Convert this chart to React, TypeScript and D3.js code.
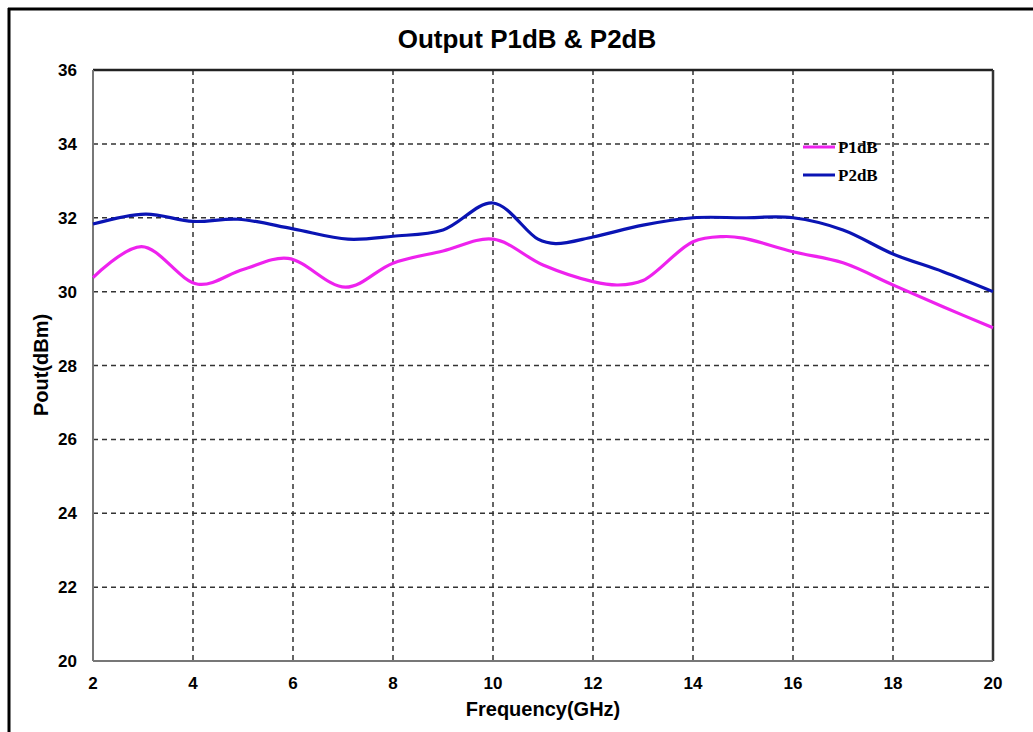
import { useEffect, useRef } from 'react';
import * as d3 from 'd3';

const freqP1 = [2, 2.97, 4.1, 5, 5.9, 7.05, 8, 9, 10, 11, 12, 12.5, 13, 14, 14.6, 15, 16, 17, 18, 19, 20];
const p1dB = [30.38, 31.22, 30.2, 30.6, 30.9, 30.12, 30.77, 31.1, 31.42, 30.72, 30.27, 30.18, 30.3, 31.35, 31.49, 31.45, 31.08, 30.78, 30.18, 29.59, 29.02];

const freqP2 = [2, 3.05, 4, 4.9, 6, 7.1, 8, 9, 10, 10.9, 11.25, 12, 13, 14, 15, 16, 17, 18, 19, 20];
const p2dB = [31.83, 32.1, 31.9, 31.96, 31.7, 31.42, 31.5, 31.67, 32.4, 31.42, 31.3, 31.48, 31.8, 32.0, 32.0, 32.0, 31.67, 31.02, 30.54, 30.0];

const xTicks = [2, 4, 6, 8, 10, 12, 14, 16, 18, 20];
const yTicks = [20, 22, 24, 26, 28, 30, 32, 34, 36];

const seriesNames = ['P1dB', 'P2dB'];
const seriesColors = ['#ee22ee', '#0a14b4'];

export default function App() {
  const ref = useRef<SVGSVGElement>(null);

  useEffect(() => {
    const width = 1033;
    const height = 732;
    const margin = { top: 70, right: 40, bottom: 71, left: 93 };
    const innerWidth = width - margin.left - margin.right;
    const innerHeight = height - margin.top - margin.bottom;

    const svg = d3.select(ref.current).attr('width', width).attr('height', height);
    svg.selectAll('*').remove();

    // outer frame
    svg.append('line').attr('x1', 8).attr('x2', width).attr('y1', 9).attr('y2', 9)
      .attr('stroke', '#000').attr('stroke-width', 3);
    svg.append('line').attr('x1', 9).attr('x2', 9).attr('y1', 8).attr('y2', height)
      .attr('stroke', '#000').attr('stroke-width', 3);

    const g = svg.append('g').attr('transform', `translate(${margin.left}, ${margin.top})`);

    const xScale = d3.scaleLinear().domain([2, 20]).range([0, innerWidth]);
    const yScale = d3.scaleLinear().domain([20, 36]).range([innerHeight, 0]);

    // grid
    g.selectAll('.vgrid')
      .data(xTicks.slice(1, -1))
      .join('line')
      .attr('class', 'vgrid')
      .attr('x1', d => xScale(d)).attr('x2', d => xScale(d))
      .attr('y1', 0).attr('y2', innerHeight)
      .attr('stroke', '#333').attr('stroke-width', 1.5).attr('stroke-dasharray', '5,4');
    g.selectAll('.hgrid')
      .data(yTicks.slice(1, -1))
      .join('line')
      .attr('class', 'hgrid')
      .attr('x1', 0).attr('x2', innerWidth)
      .attr('y1', d => yScale(d)).attr('y2', d => yScale(d))
      .attr('stroke', '#333').attr('stroke-width', 1.5).attr('stroke-dasharray', '5,4');

    // plot border
    g.append('line').attr('x1', 0).attr('x2', innerWidth).attr('y1', 0).attr('y2', 0)
      .attr('stroke', '#222').attr('stroke-width', 2.5);
    g.append('line').attr('x1', innerWidth).attr('x2', innerWidth).attr('y1', 0).attr('y2', innerHeight)
      .attr('stroke', '#333').attr('stroke-width', 2.5);
    g.append('line').attr('x1', 0).attr('x2', 0).attr('y1', 0).attr('y2', innerHeight)
      .attr('stroke', '#777').attr('stroke-width', 2);
    g.append('line').attr('x1', 0).attr('x2', innerWidth).attr('y1', innerHeight).attr('y2', innerHeight)
      .attr('stroke', '#777').attr('stroke-width', 2);

    // tick labels
    g.selectAll('.xlab')
      .data(xTicks)
      .join('text')
      .attr('class', 'xlab')
      .attr('x', d => xScale(d))
      .attr('y', innerHeight + 28)
      .attr('text-anchor', 'middle')
      .style('font-family', 'Liberation Sans, Arial, sans-serif')
      .style('font-weight', 'bold')
      .style('font-size', '17px')
      .text(d => d);
    g.selectAll('.ylab')
      .data(yTicks)
      .join('text')
      .attr('class', 'ylab')
      .attr('x', -16)
      .attr('y', d => yScale(d) + 6)
      .attr('text-anchor', 'end')
      .style('font-family', 'Liberation Sans, Arial, sans-serif')
      .style('font-weight', 'bold')
      .style('font-size', '17px')
      .text(d => d);

    const line = d3.line<[number, number]>()
      .x(d => xScale(d[0]))
      .y(d => yScale(d[1]))
      .curve(d3.curveCatmullRom.alpha(0.5));

    const series: [number, number][][] = [
      freqP1.map((f, i) => [f, p1dB[i]]),
      freqP2.map((f, i) => [f, p2dB[i]])
    ];

    g.selectAll('.series')
      .data(series)
      .join('path')
      .attr('class', 'series')
      .attr('d', d => line(d))
      .attr('fill', 'none')
      .attr('stroke', (d, i) => seriesColors[i])
      .attr('stroke-width', 3.2);

    // legend
    const legend = svg.append('g').attr('transform', 'translate(803, 147)');
    seriesNames.forEach((name, i) => {
      legend.append('line')
        .attr('x1', 0).attr('x2', 32)
        .attr('y1', i * 28).attr('y2', i * 28)
        .attr('stroke', seriesColors[i]).attr('stroke-width', 3);
      legend.append('text')
        .attr('x', 35).attr('y', i * 28 + 6)
        .style('font-family', 'Liberation Serif, Times New Roman, serif')
        .style('font-weight', 'bold')
        .style('font-size', '17px')
        .text(name);
    });

    // titles
    svg.append('text')
      .attr('x', 527).attr('y', 48)
      .attr('text-anchor', 'middle')
      .style('font-family', 'Liberation Sans, Arial, sans-serif')
      .style('font-weight', 'bold')
      .style('font-size', '26px')
      .text('Output P1dB & P2dB');
    svg.append('text')
      .attr('x', 543).attr('y', 716)
      .attr('text-anchor', 'middle')
      .style('font-family', 'Liberation Sans, Arial, sans-serif')
      .style('font-weight', 'bold')
      .style('font-size', '20px')
      .text('Frequency(GHz)');
    svg.append('text')
      .attr('transform', 'translate(48, 365) rotate(-90)')
      .attr('text-anchor', 'middle')
      .style('font-family', 'Liberation Sans, Arial, sans-serif')
      .style('font-weight', 'bold')
      .style('font-size', '20px')
      .text('Pout(dBm)');
  }, []);

  return (
    <svg ref={ref} style={{ position: 'absolute', left: 0, top: 0, background: '#fff' }}></svg>
  );
}
